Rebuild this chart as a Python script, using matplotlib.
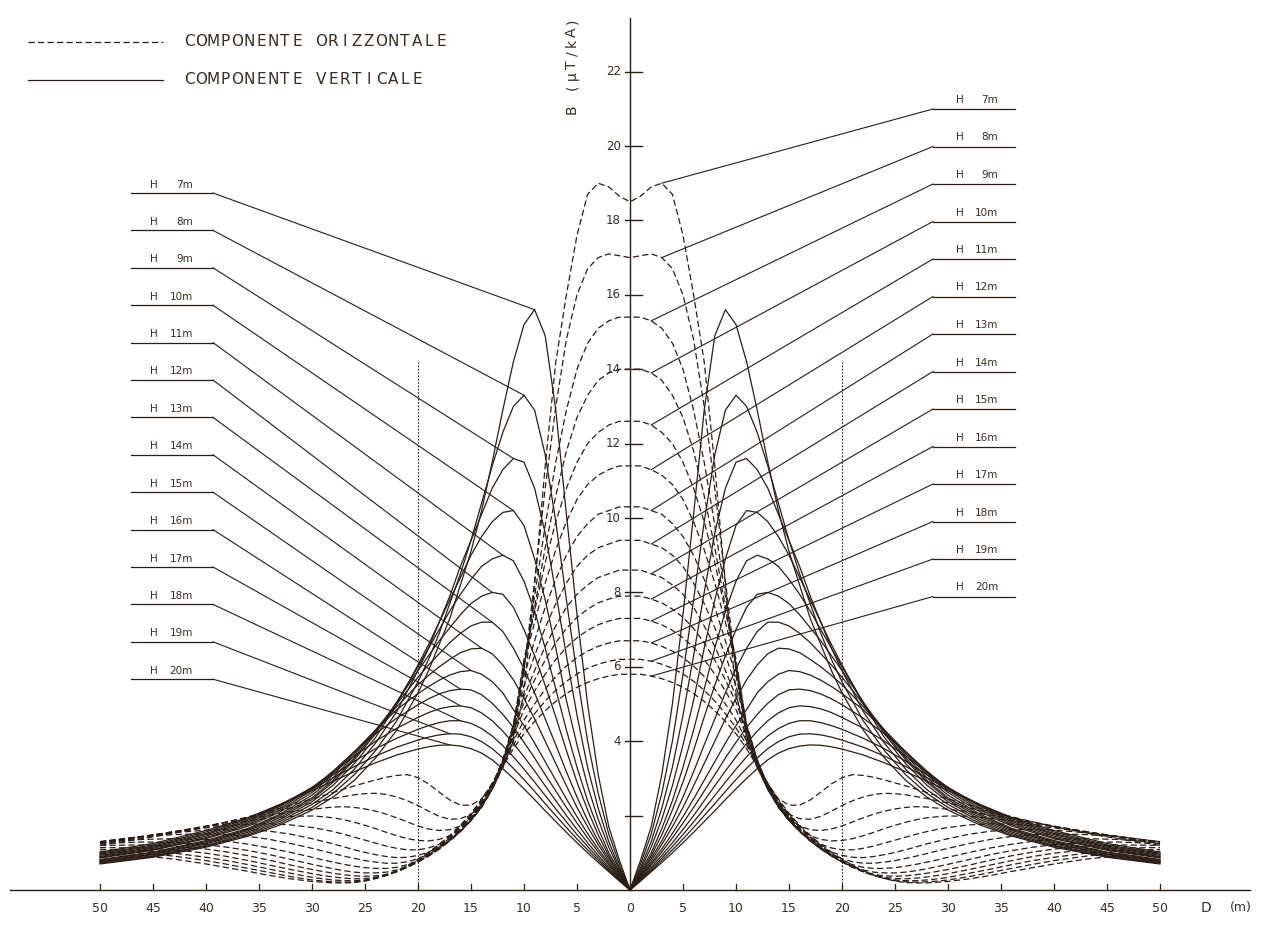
#Import required libraries
import numpy as np
import matplotlib
matplotlib.use("Agg")
import matplotlib.pyplot as plt

#Distances from the line axis (m), right half; the chart is symmetric
dist_v = [0, 1, 2, 3, 4, 5, 6, 7, 8, 9, 10, 11, 12, 13, 14, 15, 16, 17, 18, 19, 20,
          22, 24, 26, 28, 30, 33, 36, 40, 45, 50]
dist_h = [0, 1, 2, 3, 4, 5, 6, 7, 8, 9, 10, 11, 12, 13, 14, 15, 16, 17, 18, 19, 20,
          21, 22, 23, 24, 25, 26, 27, 28, 29, 30, 32, 34, 36, 38, 40, 43, 46, 50]

#Conductor heights
heights = [7, 8, 9, 10, 11, 12, 13, 14, 15, 16, 17, 18, 19, 20]

#Vertical component B (uT/kA) at dist_v, one row per height
vertical = [
    [0, 0.8, 1.7, 3.1, 5.0, 7.4, 10.1, 12.9, 14.9, 15.6, 15.2, 14.2, 12.9, 11.5, 10.2, 9.1, 8.2, 7.3, 6.6, 5.9, 5.3, 4.3, 3.55, 2.95, 2.5, 2.15, 1.75, 1.45, 1.15, 0.88, 0.7],
    [0, 0.7, 1.5, 2.6, 4.0, 5.8, 7.8, 9.9, 11.7, 12.9, 13.3, 13.0, 12.3, 11.4, 10.4, 9.4, 8.5, 7.7, 6.9, 6.2, 5.6, 4.55, 3.75, 3.1, 2.6, 2.22, 1.8, 1.48, 1.18, 0.9, 0.72],
    [0, 0.6, 1.3, 2.2, 3.3, 4.7, 6.3, 8.0, 9.6, 10.8, 11.5, 11.6, 11.3, 10.8, 10.1, 9.4, 8.7, 7.9, 7.2, 6.5, 5.9, 4.8, 3.95, 3.25, 2.7, 2.3, 1.85, 1.52, 1.2, 0.92, 0.74],
    [0, 0.55, 1.15, 1.9, 2.8, 3.9, 5.1, 6.5, 7.8, 8.9, 9.8, 10.2, 10.15, 9.9, 9.5, 9.0, 8.4, 7.8, 7.2, 6.6, 6.05, 5.0, 4.1, 3.4, 2.82, 2.37, 1.9, 1.56, 1.24, 0.95, 0.76],
    [0, 0.5, 1.0, 1.65, 2.4, 3.3, 4.3, 5.4, 6.5, 7.5, 8.3, 8.85, 9.0, 8.9, 8.7, 8.35, 7.95, 7.5, 7.0, 6.5, 6.0, 5.05, 4.2, 3.5, 2.9, 2.43, 1.95, 1.6, 1.27, 0.97, 0.78],
    [0, 0.45, 0.92, 1.48, 2.15, 2.9, 3.75, 4.65, 5.5, 6.3, 7.0, 7.6, 7.95, 8.0, 7.9, 7.7, 7.4, 7.05, 6.7, 6.3, 5.9, 5.05, 4.25, 3.55, 2.95, 2.48, 2.0, 1.63, 1.3, 1.0, 0.8],
    [0, 0.42, 0.85, 1.32, 1.87, 2.5, 3.18, 3.9, 4.6, 5.3, 5.95, 6.5, 6.95, 7.2, 7.2, 7.1, 6.9, 6.65, 6.35, 6.05, 5.72, 5.0, 4.3, 3.62, 3.02, 2.55, 2.04, 1.66, 1.33, 1.02, 0.82],
    [0, 0.38, 0.78, 1.22, 1.7, 2.22, 2.8, 3.4, 4.0, 4.6, 5.15, 5.65, 6.05, 6.35, 6.5, 6.48, 6.38, 6.2, 6.0, 5.77, 5.52, 4.93, 4.3, 3.68, 3.1, 2.62, 2.1, 1.72, 1.38, 1.07, 0.86],
    [0, 0.35, 0.72, 1.1, 1.52, 1.97, 2.45, 2.95, 3.45, 3.95, 4.42, 4.85, 5.3, 5.6, 5.8, 5.9, 5.87, 5.78, 5.64, 5.47, 5.28, 4.85, 4.3, 3.72, 3.15, 2.68, 2.15, 1.76, 1.41, 1.09, 0.88],
    [0, 0.33, 0.67, 1.02, 1.4, 1.8, 2.22, 2.66, 3.1, 3.55, 3.97, 4.37, 4.72, 5.02, 5.25, 5.38, 5.4, 5.36, 5.27, 5.14, 4.98, 4.62, 4.2, 3.72, 3.2, 2.73, 2.2, 1.8, 1.45, 1.12, 0.9],
    [0, 0.3, 0.61, 0.93, 1.27, 1.63, 2.0, 2.4, 2.8, 3.2, 3.58, 3.94, 4.27, 4.55, 4.76, 4.9, 4.95, 4.93, 4.87, 4.77, 4.64, 4.35, 4.0, 3.6, 3.17, 2.76, 2.25, 1.84, 1.49, 1.15, 0.93],
    [0, 0.28, 0.56, 0.86, 1.17, 1.49, 1.83, 2.18, 2.54, 2.9, 3.25, 3.58, 3.88, 4.14, 4.34, 4.48, 4.55, 4.55, 4.5, 4.42, 4.32, 4.08, 3.8, 3.46, 3.1, 2.75, 2.28, 1.88, 1.52, 1.18, 0.96],
    [0, 0.26, 0.52, 0.8, 1.08, 1.37, 1.68, 2.0, 2.32, 2.65, 2.97, 3.27, 3.55, 3.8, 3.99, 4.12, 4.19, 4.2, 4.17, 4.11, 4.03, 3.84, 3.6, 3.32, 3.02, 2.72, 2.3, 1.92, 1.56, 1.21, 0.99],
    [0, 0.24, 0.49, 0.74, 1.0, 1.27, 1.55, 1.84, 2.13, 2.43, 2.72, 3.0, 3.26, 3.5, 3.68, 3.8, 3.87, 3.9, 3.89, 3.85, 3.79, 3.63, 3.42, 3.18, 2.93, 2.67, 2.3, 1.95, 1.6, 1.25, 1.02],
]

#Horizontal component B (uT/kA) at dist_h, one row per height
horizontal = [
    [18.5, 18.65, 18.9, 19.0, 18.7, 17.6, 16.0, 14.2, 11.4, 8.2, 5.3, 4.0, 3.3, 2.8, 2.45, 2.28, 2.28, 2.42, 2.63, 2.85, 3.02, 3.1, 3.08, 3.03, 2.96, 2.88, 2.8, 2.71, 2.62, 2.53, 2.45, 2.28, 2.12, 1.97, 1.83, 1.7, 1.53, 1.38, 1.2],
    [17.0, 17.05, 17.1, 17.0, 16.7, 16.0, 14.8, 13.0, 10.8, 8.3, 5.9, 4.1, 3.3, 2.72, 2.3, 2.03, 1.92, 1.9, 1.98, 2.12, 2.27, 2.4, 2.5, 2.57, 2.6, 2.59, 2.56, 2.51, 2.46, 2.4, 2.34, 2.21, 2.08, 1.95, 1.83, 1.71, 1.55, 1.41, 1.24],
    [15.4, 15.4, 15.3, 15.1, 14.7, 14.0, 12.9, 11.5, 9.8, 7.9, 6.0, 4.2, 3.3, 2.7, 2.25, 1.93, 1.72, 1.62, 1.6, 1.64, 1.72, 1.83, 1.94, 2.04, 2.12, 2.18, 2.22, 2.24, 2.23, 2.2, 2.17, 2.1, 2.01, 1.92, 1.82, 1.72, 1.57, 1.43, 1.26],
    [14.0, 14.0, 13.9, 13.7, 13.3, 12.7, 11.8, 10.6, 9.2, 7.6, 6.0, 4.3, 3.35, 2.7, 2.22, 1.88, 1.63, 1.46, 1.36, 1.32, 1.33, 1.38, 1.46, 1.55, 1.65, 1.74, 1.82, 1.89, 1.94, 1.97, 1.99, 1.98, 1.93, 1.86, 1.78, 1.7, 1.57, 1.44, 1.28],
    [12.6, 12.6, 12.5, 12.3, 12.0, 11.5, 10.8, 9.9, 8.8, 7.5, 6.2, 4.4, 3.4, 2.72, 2.22, 1.86, 1.58, 1.38, 1.23, 1.13, 1.08, 1.08, 1.12, 1.18, 1.26, 1.34, 1.42, 1.5, 1.57, 1.63, 1.68, 1.75, 1.78, 1.77, 1.73, 1.67, 1.56, 1.44, 1.29],
    [11.4, 11.4, 11.3, 11.15, 10.9, 10.5, 9.9, 9.15, 8.25, 7.2, 6.1, 4.45, 3.45, 2.75, 2.24, 1.87, 1.57, 1.34, 1.16, 1.02, 0.93, 0.88, 0.87, 0.9, 0.95, 1.01, 1.08, 1.16, 1.24, 1.31, 1.38, 1.5, 1.58, 1.62, 1.63, 1.61, 1.54, 1.44, 1.3],
    [10.3, 10.3, 10.2, 10.1, 9.85, 9.5, 9.0, 8.35, 7.6, 6.7, 5.75, 4.45, 3.5, 2.78, 2.26, 1.88, 1.57, 1.32, 1.12, 0.96, 0.84, 0.76, 0.72, 0.72, 0.75, 0.79, 0.85, 0.91, 0.98, 1.05, 1.12, 1.25, 1.36, 1.44, 1.49, 1.51, 1.49, 1.43, 1.3],
    [9.4, 9.4, 9.3, 9.2, 9.0, 8.7, 8.25, 7.7, 7.05, 6.3, 5.5, 4.4, 3.5, 2.8, 2.28, 1.9, 1.58, 1.32, 1.1, 0.92, 0.78, 0.68, 0.61, 0.58, 0.58, 0.6, 0.64, 0.69, 0.75, 0.81, 0.88, 1.01, 1.13, 1.23, 1.31, 1.36, 1.38, 1.36, 1.28],
    [8.6, 8.6, 8.5, 8.4, 8.2, 7.95, 7.6, 7.1, 6.55, 5.9, 5.2, 4.3, 3.48, 2.82, 2.3, 1.92, 1.6, 1.33, 1.1, 0.91, 0.75, 0.63, 0.54, 0.48, 0.46, 0.46, 0.48, 0.52, 0.57, 0.63, 0.69, 0.82, 0.95, 1.06, 1.15, 1.22, 1.28, 1.29, 1.25],
    [7.9, 7.9, 7.82, 7.72, 7.55, 7.33, 7.03, 6.65, 6.18, 5.65, 5.05, 4.25, 3.45, 2.83, 2.33, 1.94, 1.62, 1.35, 1.12, 0.92, 0.75, 0.61, 0.5, 0.42, 0.38, 0.37, 0.38, 0.41, 0.45, 0.5, 0.55, 0.67, 0.8, 0.92, 1.02, 1.1, 1.18, 1.21, 1.2],
    [7.3, 7.3, 7.23, 7.13, 6.98, 6.78, 6.52, 6.2, 5.8, 5.35, 4.85, 4.15, 3.42, 2.84, 2.36, 1.97, 1.65, 1.38, 1.15, 0.94, 0.76, 0.61, 0.49, 0.4, 0.34, 0.31, 0.3, 0.32, 0.35, 0.39, 0.44, 0.55, 0.67, 0.79, 0.9, 0.99, 1.08, 1.13, 1.14],
    [6.7, 6.7, 6.64, 6.55, 6.42, 6.25, 6.02, 5.74, 5.4, 5.0, 4.57, 4.0, 3.38, 2.85, 2.38, 2.0, 1.68, 1.41, 1.17, 0.96, 0.78, 0.62, 0.49, 0.39, 0.32, 0.27, 0.25, 0.25, 0.27, 0.3, 0.34, 0.45, 0.56, 0.68, 0.79, 0.88, 0.99, 1.06, 1.09],
    [6.2, 6.2, 6.15, 6.07, 5.96, 5.81, 5.61, 5.37, 5.08, 4.74, 4.36, 3.9, 3.35, 2.86, 2.41, 2.03, 1.71, 1.44, 1.2, 0.99, 0.8, 0.64, 0.5, 0.39, 0.31, 0.25, 0.22, 0.21, 0.22, 0.24, 0.27, 0.36, 0.47, 0.58, 0.69, 0.79, 0.91, 0.99, 1.04],
    [5.8, 5.8, 5.75, 5.68, 5.58, 5.45, 5.28, 5.07, 4.82, 4.53, 4.2, 3.8, 3.32, 2.87, 2.44, 2.06, 1.74, 1.47, 1.23, 1.02, 0.83, 0.66, 0.52, 0.4, 0.31, 0.24, 0.2, 0.19, 0.19, 0.21, 0.23, 0.3, 0.39, 0.5, 0.6, 0.7, 0.83, 0.92, 0.98],
]

#Where the right-hand labels point on the horizontal curves (m)
right_tip = [3, 3, 2, 2, 2, 2, 2, 2, 2, 2, 2, 2, 2, 2]

INK = "#2a1d15"
TXT = "#3b2b20"

#Pixel frame of the original drawing
X0, SX = 630.0, 10.6
Y0, SY = 890.0, 37.2
W, H = 1262, 926


def px(xp, yp):
    #Convert picture pixels to data coordinates
    return (xp - X0) / SX, (Y0 - yp) / SY


def plotter_text(ax, xp, yp, s, pitch, size, rot=0):
    #Fixed-pitch lettering, like the pen plotter
    for i, ch in enumerate(s):
        if ch == " ":
            continue
        if rot == 0:
            x, y = px(xp + i * pitch, yp)
        else:
            x, y = px(xp, yp - i * pitch)
        ax.text(x, y, ch, fontsize=size, ha="center", va="center",
                color=TXT, rotation=rot, family="DejaVu Sans")


def height_label(ax, x_h, x_end, yp, h):
    #"H" at the left, the height right aligned at the end
    x, y = px(x_h, yp)
    ax.text(x, y, "H", fontsize=7.5, ha="center", va="center", color=TXT)
    x, y = px(x_end, yp)
    ax.text(x, y, "%dm" % h, fontsize=7.5, ha="right", va="center", color=TXT)


def mirror(grid, vals):
    d = np.array(grid, dtype=float)
    v = np.array(vals, dtype=float)
    return np.concatenate([-d[::-1], d[1:]]), np.concatenate([v[::-1], v[1:]])


def main():
    fig = plt.figure(figsize=(W / 100, H / 100), dpi=100)
    ax = fig.add_axes([0, 0, 1, 1])
    ax.set_xlim(-X0 / SX, (W - X0) / SX)
    ax.set_ylim((Y0 - H) / SY, Y0 / SY)
    ax.axis("off")

    #Curves
    for vals in vertical:
        x, y = mirror(dist_v, vals)
        ax.plot(x, y, color=INK, lw=0.9)
    for vals in horizontal:
        x, y = mirror(dist_h, vals)
        ax.plot(x, y, color=INK, lw=0.9, ls=(0, (5, 2.6)))

    #Axes drawn by hand
    ax.plot([-58.5, 58.5], [0, 0], color=INK, lw=1.0)
    ax.plot([0, 0], [0, px(0, 18)[1]], color=INK, lw=1.0)
    for d in range(-50, 51, 5):
        ax.plot([d, d], [0, 0.15], color=INK, lw=0.9)
        ax.text(d, px(0, 908)[1], str(abs(d)), fontsize=9, ha="center",
                va="center", color=TXT)
    ax.text(px(1206, 0)[0], px(0, 908)[1], "D", fontsize=10, ha="center",
            va="center", color=TXT)
    ax.text(px(1241, 0)[0], px(0, 908)[1], "(m)", fontsize=9, ha="center",
            va="center", color=TXT)
    for b in range(2, 23, 2):
        ax.plot([-0.45, 1.1], [b, b], color=INK, lw=1.0)
        if b >= 4:
            ax.text(px(621, 0)[0], b, str(b), fontsize=8.5, ha="right",
                    va="center", color=TXT)
    plotter_text(ax, 572, 109, "B (\u03bcT/kA)", 11, 10, rot=90)

    #Dotted markers at 20 m
    for d in (-20, 20):
        ax.plot([d, d], [0, 14.2], color=INK, lw=0.8, ls=(0, (1.5, 1.5)))

    #Legend
    for yp, ls, label in ((42, (0, (5, 2.6)), "COMPONENTE ORIZZONTALE"),
                          (80, "-", "COMPONENTE VERTICALE")):
        (xa, ya), (xb, yb) = px(28, yp), px(163, yp)
        ax.plot([xa, xb], [ya, yb], color=INK, lw=0.9, ls=ls)
        plotter_text(ax, 189, yp, label, 12, 11)

    #Height labels with leaders
    for i, h in enumerate(heights):
        #left: vertical component peaks
        yl = 193 + 37.4 * i
        (xa, ya), (xb, yb) = px(131, yl), px(213, yl)
        ax.plot([xa, xb], [ya, yb], color=INK, lw=0.9)
        height_label(ax, 153.5, 193, yl - 8.5, h)
        k = int(np.argmax(vertical[i]))
        ax.plot([xb, -dist_v[k]], [yb, vertical[i][k]], color=INK, lw=0.8)
        #right: horizontal component near the axis
        yr = 109 + 37.5 * i
        (xa, ya), (xb, yb) = px(933, yr), px(1015, yr)
        ax.plot([xa, xb], [ya, yb], color=INK, lw=0.9)
        height_label(ax, 960, 998, yr - 9, h)
        j = dist_h.index(right_tip[i])
        ax.plot([xa, dist_h[j]], [ya, horizontal[i][j]], color=INK, lw=0.8)

    fig.savefig("out.png", dpi=100, facecolor="white")


#Run program
if __name__ == "__main__":
    main()
